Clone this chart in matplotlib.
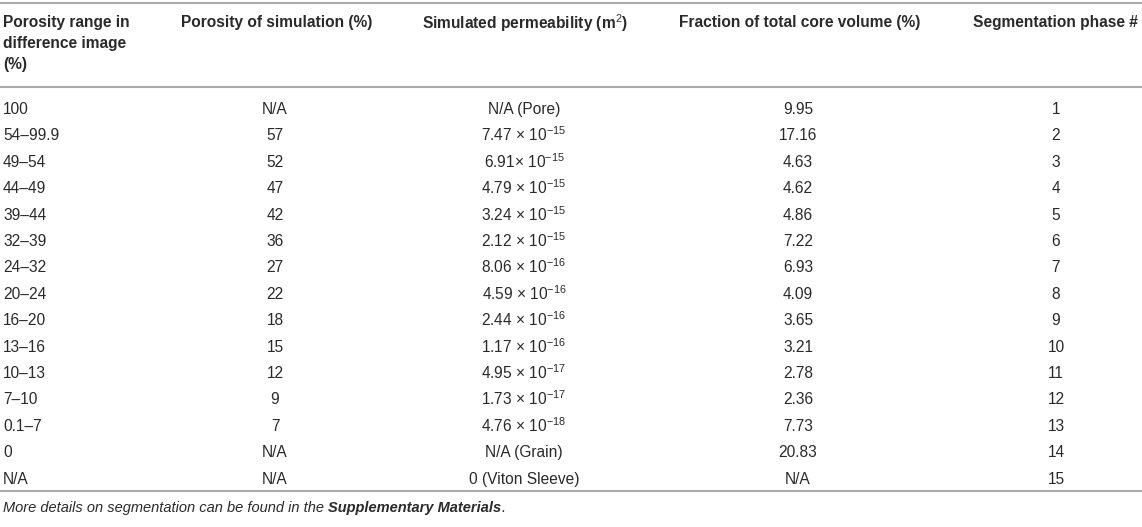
import matplotlib
matplotlib.use("Agg")
import matplotlib.pyplot as plt

plt.rcParams['font.family'] = ['Liberation Sans', 'DejaVu Sans']
plt.rcParams['mathtext.fontset'] = 'custom'
plt.rcParams['mathtext.rm'] = 'Liberation Sans'
plt.rcParams['mathtext.it'] = 'Liberation Sans:italic'
plt.rcParams['mathtext.bf'] = 'Liberation Sans:bold'

headers = [["Porosity range in", "difference image", "(%)"], ["Porosity of simulation (%)"],
           ["Simulated permeability (m$^2$)"], ["Fraction of total core volume (%)"],
           ["Segmentation phase #"]]
porosity_range = ["100", "54–99.9", "49–54", "44–49", "39–44", "32–39", "24–32", "20–24",
                  "16–20", "13–16", "10–13", "7–10", "0.1–7", "0", "N/A"]
porosity_sim = ["N/A", "57", "52", "47", "42", "36", "27", "22", "18", "15", "12", "9", "7",
                "N/A", "N/A"]
perm_mant = [None, "7.47", "6.91", "4.79", "3.24", "2.12", "8.06", "4.59", "2.44", "1.17",
             "4.95", "1.73", "4.76", None, None]
perm_exp = [None, -15, -15, -15, -15, -15, -16, -16, -16, -16, -17, -17, -18, None, None]
perm_text = {0: "N/A (Pore)", 13: "N/A (Grain)", 14: "0 (Viton Sleeve)"}
fraction = ["9.95", "17.16", "4.63", "4.62", "4.86", "7.22", "6.93", "4.09", "3.65", "3.21",
            "2.78", "2.36", "7.73", "20.83", "N/A"]
phase = [str(i) for i in range(1, 16)]
foot_parts = ["More details on segmentation can be found in the ", "Supplementary Materials", "."]

W, H = 1142, 527
fig = plt.figure(figsize=(W / 100, H / 100), dpi=100)
ax = fig.add_axes([0, 0, 1, 1])
ax.set_xlim(0, W)
ax.set_ylim(H, 0)
ax.axis('off')

fs = 11.2
col = '#2a2a2a'
line_col = '#ababab'

for y in (3, 87, 491):
    ax.plot([0, W], [y, y], color=line_col, lw=1.5, solid_capstyle='butt')

hx = [3, 181, 422, 679, 973]
for i, lines in enumerate(headers):
    for j, h in enumerate(lines):
        dy_math = 1.5 if '$' in h else 0
        ax.text(hx[i], 27 + 21 * j + dy_math, h, ha='left', va='baseline', fontsize=fs,
                fontweight='bold', color=col)

cx = [3, 275, 524, 798, 1056]
y0, dy = 114, 26.4
for r in range(15):
    y = y0 + r * dy
    ax.text(cx[0], y, porosity_range[r], ha='left', va='baseline', fontsize=fs, color=col)
    ax.text(cx[1], y, porosity_sim[r], ha='center', va='baseline', fontsize=fs, color=col)
    if r in perm_text:
        t = perm_text[r]
        yy = y
    else:
        sep = "" if r == 2 else " "
        t = f"{perm_mant[r]}{sep}$\\times$ 10$^{{{perm_exp[r]}}}$"
        yy = y + 1
    ax.text(cx[2], yy, t, ha='center', va='baseline', fontsize=fs, color=col)
    ax.text(cx[3], y, fraction[r], ha='center', va='baseline', fontsize=fs, color=col)
    ax.text(cx[4], y, phase[r], ha='center', va='baseline', fontsize=fs, color=col)

fx = 3
fy = 512
weights = ['normal', 'bold', 'normal']
for part, wgt in zip(foot_parts, weights):
    t = ax.text(fx, fy, part, ha='left', va='baseline', fontsize=10.5, style='italic',
                fontweight=wgt, color=col)
    fig.canvas.draw()
    bb = t.get_window_extent()
    fx = ax.transData.inverted().transform((bb.x1, bb.y0))[0]

fig.savefig("out.png", dpi=100)
